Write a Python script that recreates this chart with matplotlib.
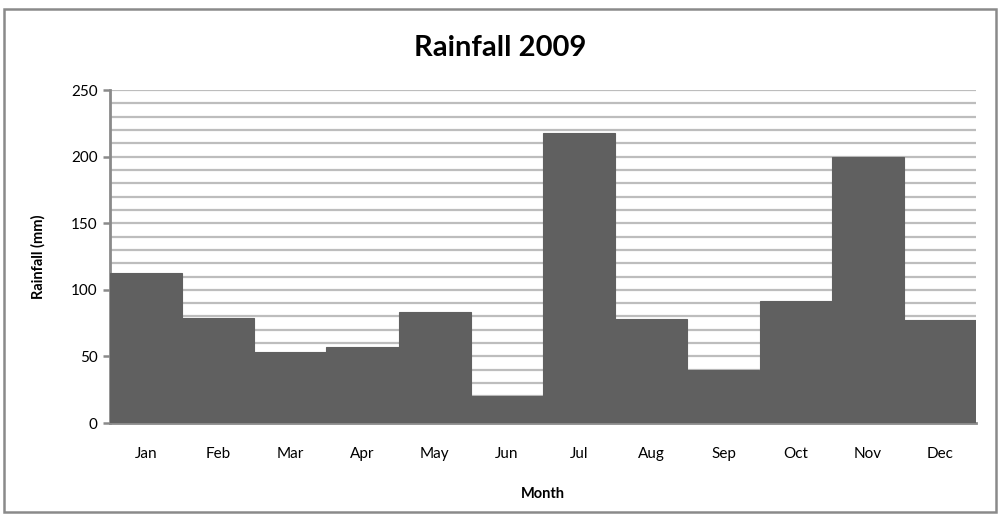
import matplotlib
matplotlib.use("Agg")
import matplotlib.pyplot as plt
from matplotlib.patches import Rectangle
import numpy as np

months = ["Jan", "Feb", "Mar", "Apr", "May", "Jun", "Jul", "Aug", "Sep", "Oct", "Nov", "Dec"]
rainfall = [113, 79, 53, 57, 83, 20, 218, 78, 40, 92, 200, 77]
y_ticks = [0, 50, 100, 150, 200, 250]

plt.rcParams['font.family'] = ['Lato', 'DejaVu Sans']

fig = plt.figure(figsize=(10, 5.15), dpi=100)
ax = fig.add_axes([0.11, 0.1786, 0.866, 0.6464])

x = np.arange(len(months))
ax.bar(x, rainfall, width=1.0, color="#606060", edgecolor="#606060", linewidth=0.8, zorder=3)

ax.set_xlim(-0.5, len(months) - 0.5)
ax.set_ylim(0, 250)
ax.set_yticks(y_ticks)
ax.set_yticks(np.arange(0, 251, 10), minor=True)
ax.yaxis.grid(True, which="both", color="#bdbdbd", linewidth=1.6, zorder=0)
ax.set_axisbelow(True)
ax.set_xticks(x)
ax.set_xticklabels(months)
ax.tick_params(axis="x", length=0, pad=17, labelsize=11, colors="black")
ax.tick_params(axis="y", which="major", length=5, width=1.8, color="#8a8a8a", labelsize=11, pad=4)
ax.tick_params(axis="y", which="minor", length=0)

for s in ["top", "right"]:
    ax.spines[s].set_visible(False)
for s in ["left", "bottom"]:
    ax.spines[s].set_color("#8a8a8a")
    ax.spines[s].set_linewidth(2)

ax.set_xlabel("Month", fontweight="bold", fontsize=10.5, labelpad=19)
ax.set_ylabel("Rainfall (mm)", fontweight="bold", fontsize=10.5, labelpad=18)
fig.text(0.5, 0.907, "Rainfall 2009", ha="center", va="center", fontsize=21, fontweight="bold")

fig.patches.append(Rectangle((0.004, 0.006), 0.992, 0.976, transform=fig.transFigure,
                             fill=False, edgecolor="#8a8a8a", linewidth=1.8))

fig.savefig("out.png", dpi=100, facecolor="white")
